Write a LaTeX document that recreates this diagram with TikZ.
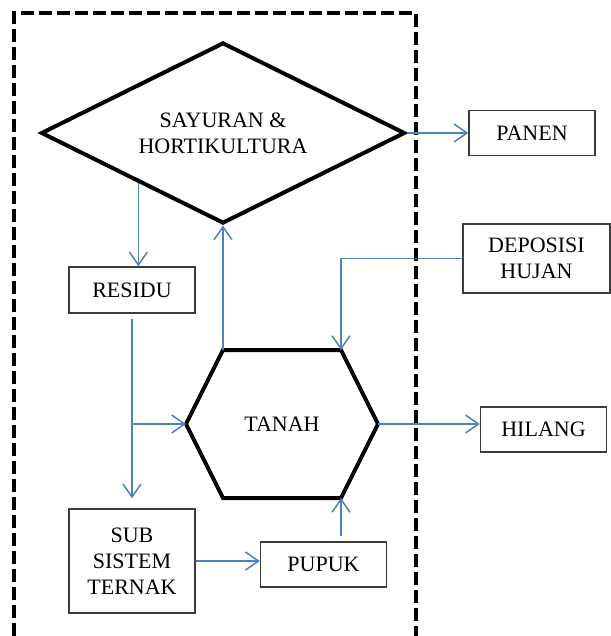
\documentclass[tikz,border=0pt]{standalone}
\usepackage{fontspec}
\setmainfont{Liberation Serif}
\usetikzlibrary{arrows.meta,calc,positioning,shapes.geometric}
\definecolor{flowblue}{RGB}{79,129,189}
\definecolor{boxgray}{RGB}{60,60,60}
\tikzset{%
	process/.style  = {draw=boxgray, rectangle, line width=0.7pt, minimum width=63pt, minimum height=22.5pt, align=center},
	decision/.style = {draw, diamond, aspect=2, inner sep=0pt, line width=2pt, minimum width=182pt, minimum height=90.5pt, align=center},
	arrow/.style    = {draw=flowblue, line width=0.75pt, -{Straight Barb[length=6.5pt,width=9pt]}},
	waypoint/.style = {coordinate}, % branch point
	frame/.style    = {line width=2pt, dash pattern=on 6.5pt off 2.5pt},
}

\begin{document}
\begin{tikzpicture}[every node/.style={font=\fontsize{11}{13}\selectfont}]
	\useasboundingbox (0,0) rectangle (305pt,-318pt);
	% system boundary
	\draw[frame] (7pt,-318pt) -- (7pt,-6.5pt) -- (208pt,-6.5pt) -- (208pt,-318pt);

	\node [decision] (diamond) at (111.5pt,-66.5pt) {SAYURAN \&\\HORTIKULTURA};
	\node [process] (panen) [right of=diamond,node distance=154.5pt] {PANEN};
	\node [process, minimum width=73.5pt, minimum height=34.5pt] (deposisi) at (268.25pt,-129.25pt) {DEPOSISI\\HUJAN};
	\node [process, minimum height=23pt] (residu) at (66pt,-145pt) {RESIDU};
	\node (tanah) at (141pt,-212pt) {TANAH};
	\node [process] (hilang) at (271.75pt,-214.75pt) {HILANG};
	\node [process, minimum height=52pt] (sub) [below of=residu,node distance=135.5pt] {SUB\\SISTEM\\TERNAK};
	\node [process] (pupuk) at (161.75pt,-282.25pt) {PUPUK};

	% hexagon round TANAH
	\coordinate (hexL)  at ($(tanah)+(-48pt,0)$);
	\coordinate (hexTL) at ($(tanah)+(-29.5pt,37pt)$);
	\coordinate (hexTR) at ($(tanah)+(29.5pt,37pt)$);
	\coordinate (hexR)  at ($(tanah)+(48pt,0)$);
	\coordinate (hexBR) at ($(tanah)+(29.5pt,-37pt)$);
	\coordinate (hexBL) at ($(tanah)+(-29.5pt,-37pt)$);
	\draw[line width=2pt] (hexL) -- (hexTL) -- (hexTR) -- (hexR) -- (hexBR) -- (hexBL) -- cycle;

	\coordinate (dres) at ($(diamond.west)!0.54!(diamond.south)$);
	\node [waypoint] (wp) at (residu.south |- hexL) {};

	\draw[arrow] (dres) -- (dres |- residu.north);
	\draw[arrow] (diamond.east) -- (diamond.east -| panen.west);
	\draw[arrow] (deposisi.west) -| (hexTR);
	\draw[arrow] (hexTL) -- (diamond.south);
	\draw[arrow, shorten <=2.5pt, shorten >=5pt] (residu.south) -- (residu.south |- sub.north);
	\draw[arrow] (wp) -- (hexL);
	\draw[arrow] (hexR) -- (hexR -| hilang.west);
	\draw[arrow] (sub.east) -- (sub.east -| pupuk.west);
	\draw[arrow, shorten <=2.5pt] (pupuk.north -| hexBR) -- (hexBR);
\end{tikzpicture}
\end{document}
